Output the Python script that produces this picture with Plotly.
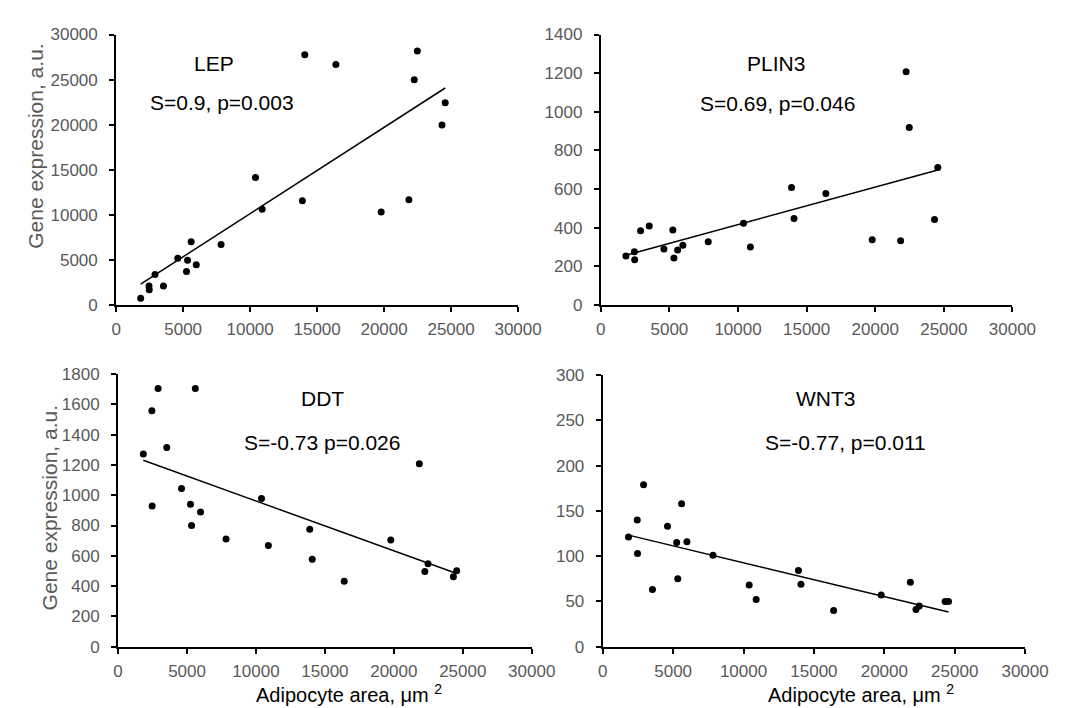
import numpy as np
import plotly.graph_objects as go

# adipocyte area (um^2), same donors in every panel
area = [1830, 2450, 2470, 2900, 3530, 4600, 5250, 5330, 5600, 5980, 7830,
        10400, 10900, 13900, 14080, 16400, 19780, 21850, 22250, 22480, 24320, 24560]

lep = [757, 2127, 1695, 3389, 2127, 5192, 3714, 4976, 7031, 4471, 6707,
       14135, 10637, 11575, 27764, 26683, 10312, 11683, 24988, 28161, 19976, 22428]
plin3 = [254, 276, 234, 384, 409, 290, 389, 244, 285, 310, 328,
         423, 300, 608, 448, 577, 338, 333, 1207, 919, 443, 712]
ddt = [1273, 1558, 929, 1705, 1316, 1044, 940, 800, 1705, 890, 711,
       979, 668, 776, 577, 432, 704, 1208, 497, 547, 462, 501]
wnt3 = [121, 140, 103, 179, 63, 133, 115, 75, 158, 116, 101,
        68, 52, 84, 69, 40, 57, 71, 41, 45, 50, 50]

genes = ["LEP", "PLIN3", "DDT", "WNT3"]
stats = ["S=0.9, p=0.003", "S=0.69, p=0.046", "S=-0.73 p=0.026", "S=-0.77, p=0.011"]
series = [lep, plin3, ddt, wnt3]
y_max = [30000, 1400, 1800, 300]
y_step = [5000, 200, 200, 50]

W, H = 1081, 708
FONT = "Liberation Sans, Arial, sans-serif"
GREY = "#595959"

# panel boxes in pixels: x0, x1, ytop, ybottom
boxes = [(106, 519, 18, 296), (604, 1027, 18, 296),
         (108, 533, 367, 647), (606, 1040, 368, 647)]
# label positions in pixels: gene name, stat text
label_pos = [((207, 48), (215, 88)), ((784, 48), (786, 89)),
             ((318, 392), (318, 437)), ((835, 392), (855, 437))]


def px(x):
    return x / W


def py(y):
    return 1 - y / H


fig = go.Figure()
xs = np.array(area, dtype=float)
annotations = []

for i, ys in enumerate(series):
    n = i + 1
    xa = "x" if n == 1 else f"x{n}"
    ya = "y" if n == 1 else f"y{n}"
    fig.add_trace(go.Scatter(x=area, y=ys, mode="markers", xaxis=xa, yaxis=ya,
                             marker=dict(color="black", size=7), showlegend=False))
    k, b = np.polyfit(xs, np.array(ys, dtype=float), 1)
    xl = [xs.min(), xs.max()]
    fig.add_trace(go.Scatter(x=xl, y=[k * v + b for v in xl], mode="lines",
                             xaxis=xa, yaxis=ya, line=dict(color="black", width=1.5),
                             showlegend=False))

    x0, x1, yt, yb = boxes[i]
    common = dict(showgrid=False, zeroline=False, showline=True, linecolor="black",
                  linewidth=2, ticks="outside", ticklen=5, tickwidth=2, tickcolor="black",
                  tickformat="d", tickfont=dict(family=FONT, size=17, color=GREY))
    fig.layout[f"xaxis{'' if n == 1 else n}"] = dict(
        domain=[px(x0), px(x1)], anchor=ya, range=[0, 30000], dtick=5000,
        tick0=0, ticklabelstandoff=3, **common)
    fig.layout[f"yaxis{'' if n == 1 else n}"] = dict(
        domain=[py(yb), py(yt)], anchor=xa, range=[0, y_max[i]], dtick=y_step[i],
        tick0=0, ticklabelstandoff=8, **common)

    (gx, gy), (sx, sy) = label_pos[i]
    annotations.append(dict(x=px(gx), y=py(gy), text=genes[i], showarrow=False,
                            xref="paper", yref="paper", xanchor="center", yanchor="middle",
                            font=dict(family=FONT, size=21, color="black")))
    annotations.append(dict(x=px(sx), y=py(sy), text=stats[i], showarrow=False,
                            xref="paper", yref="paper", xanchor="center", yanchor="middle",
                            font=dict(family=FONT, size=21, color="black")))

# axis titles
for (tx, ty) in [(23, 133), (37, 505)]:
    annotations.append(dict(x=px(tx), y=py(ty), text="Gene expression, a.u.", textangle=-90,
                            showarrow=False, xref="paper", yref="paper",
                            xanchor="center", yanchor="middle",
                            font=dict(family=FONT, size=21, color=GREY)))
for (tx, ty) in [(345, 695), (871, 695)]:
    annotations.append(dict(x=px(tx), y=py(ty), text="Adipocyte area, \u03bcm <sup>2</sup>",
                            showarrow=False, xref="paper", yref="paper",
                            xanchor="center", yanchor="middle",
                            font=dict(family=FONT, size=20, color="black")))

fig.update_layout(width=W, height=H, margin=dict(l=0, r=0, t=0, b=0),
                  plot_bgcolor="white", paper_bgcolor="white",
                  annotations=annotations)

fig.write_html("out.html")
